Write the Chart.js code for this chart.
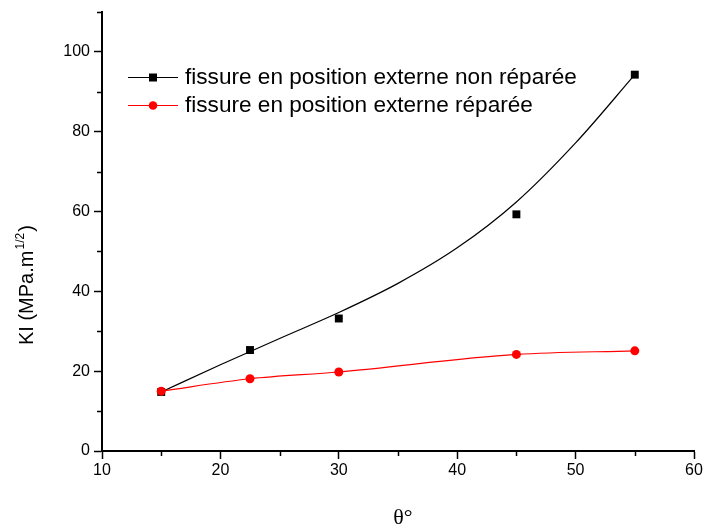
<!DOCTYPE html>
<html>
<head>
<meta charset="utf-8">
<script src="https://cdn.jsdelivr.net/npm/chart.js@4/dist/chart.umd.min.js"></script>
<style>
html,body{margin:0;padding:0;background:#fff;}
#wrap{width:703px;height:526px;position:relative;}
</style>
</head>
<body>
<div id="wrap"><canvas id="c" width="703" height="526"></canvas></div>
<script>
// ---- data ----
const theta = [15, 22.5, 30, 45, 55];
const kiNonReparee = [14.8, 25.3, 33.2, 59.3, 94.3];
const kiReparee = [15.0, 18.1, 19.8, 24.2, 25.1];
// fitted curve of the non-repaired series
const fitTheta = [15, 20, 25, 30, 35, 40, 45, 50, 55];
const fitNonReparee = [14.8, 21.6, 28.2, 34.7, 42.0, 50.9, 62.4, 77.2, 94.3];
const xTicks = [10, 20, 30, 40, 50, 60];
const yTicks = [0, 20, 40, 60, 80, 100];
const xMinorTicks = [15, 25, 35, 45, 55];
const yMinorTicks = [10, 30, 50, 70, 90, 110];
const seriesLabels = ['fissure en position externe non réparée', 'fissure en position externe réparée'];
const xTitle = 'θ°';
const yTitleMain = 'KI (MPa.m';
const yTitleSup = '1/2';
const yTitleEnd = ')';

const toXY = (xs, ys) => xs.map((x, i) => ({x: x, y: ys[i]}));

const minorTicksPlugin = {
  id: 'minorTicks',
  afterDraw(chart) {
    const ctx = chart.ctx, xs = chart.scales.x, ys = chart.scales.y;
    const a = chart.chartArea;
    ctx.save();
    ctx.strokeStyle = '#000';
    ctx.lineWidth = 1.5;
    ctx.beginPath();
    xMinorTicks.forEach(v => {
      const px = Math.round(xs.getPixelForValue(v)) + 0.5;
      ctx.moveTo(px, a.bottom); ctx.lineTo(px, a.bottom + 5);
    });
    yMinorTicks.forEach(v => {
      const py = Math.round(ys.getPixelForValue(v)) + 0.5;
      ctx.moveTo(a.left, py); ctx.lineTo(a.left - 5, py);
    });
    ctx.stroke();
    ctx.restore();
  }
};

const titlesPlugin = {
  id: 'titles',
  afterDraw(chart) {
    const ctx = chart.ctx;
    ctx.save();
    ctx.fillStyle = '#000';
    // x title
    ctx.font = '22px "Liberation Serif", "Times New Roman", serif';
    ctx.textAlign = 'center';
    ctx.textBaseline = 'alphabetic';
    ctx.fillText(xTitle, 403, 524);
    // y title, rotated
    ctx.translate(33, 345);
    ctx.rotate(-Math.PI / 2);
    ctx.textAlign = 'left';
    ctx.font = '20px "Liberation Sans", Arial, sans-serif';
    ctx.fillText(yTitleMain, 0, 0);
    let w = ctx.measureText(yTitleMain).width;
    ctx.font = '12px "Liberation Sans", Arial, sans-serif';
    ctx.fillText(yTitleSup, w + 1, -9);
    w += ctx.measureText(yTitleSup).width + 2;
    ctx.font = '20px "Liberation Sans", Arial, sans-serif';
    ctx.fillText(yTitleEnd, w, 0);
    ctx.restore();
  }
};

const legendPlugin = {
  id: 'customLegend',
  afterDraw(chart) {
    const ctx = chart.ctx;
    const rows = [
      {label: seriesLabels[0], color: '#000', style: 'rect', y: 77},
      {label: seriesLabels[1], color: '#ff0000', style: 'circle', y: 105}
    ];
    ctx.save();
    rows.forEach(r => {
      ctx.strokeStyle = r.color;
      ctx.lineWidth = 1;
      ctx.beginPath();
      ctx.moveTo(128, r.y + 0.5); ctx.lineTo(178, r.y + 0.5);
      ctx.stroke();
      ctx.fillStyle = r.color;
      if (r.style === 'rect') {
        ctx.fillRect(149, r.y - 3.5, 8, 8);
      } else {
        ctx.beginPath(); ctx.arc(153, r.y + 0.5, 4.3, 0, Math.PI * 2); ctx.fill();
      }
      ctx.fillStyle = '#000';
      ctx.font = '22.6px "Liberation Sans", Arial, sans-serif';
      ctx.textAlign = 'left';
      ctx.textBaseline = 'middle';
      ctx.fillText(r.label, 185, r.y + 1);
    });
    ctx.restore();
  }
};

new Chart(document.getElementById('c'), {
  type: 'scatter',
  data: {
    datasets: [
      {
        label: seriesLabels[1],
        data: toXY(theta, kiReparee),
        showLine: true,
        cubicInterpolationMode: 'monotone',
        borderColor: '#ff0000',
        backgroundColor: '#ff0000',
        borderWidth: 1.2,
        pointStyle: 'circle',
        pointRadius: 4.5,
        pointBorderWidth: 0,
        order: 0
      },
      {
        label: seriesLabels[0],
        data: toXY(theta, kiNonReparee),
        showLine: false,
        borderColor: '#000',
        backgroundColor: '#000',
        pointStyle: 'rect',
        pointRadius: 5.6,
        pointBorderWidth: 0,
        order: 1
      },
      {
        label: 'fit',
        data: toXY(fitTheta, fitNonReparee),
        showLine: true,
        cubicInterpolationMode: 'monotone',
        borderColor: '#000',
        borderWidth: 1.2,
        pointRadius: 0,
        order: 2
      }
    ]
  },
  options: {
    responsive: false,
    animation: false,
    devicePixelRatio: 1,
    layout: {padding: {left: 0, right: 9, top: 12, bottom: 0}},
    plugins: {legend: {display: false}, tooltip: {enabled: false}},
    scales: {
      x: {
        type: 'linear', min: 10, max: 60,
        afterFit: s => { s.height = 75; s.paddingLeft = 0; s.paddingRight = 0; },
        afterBuildTicks: s => { s.ticks = xTicks.map(v => ({value: v})); },
        border: {display: true, color: '#000', width: 2},
        grid: {drawOnChartArea: false, drawTicks: true, tickLength: 8, tickColor: '#000', tickWidth: 1.5},
        ticks: {color: '#000', font: {family: '"Liberation Sans", Arial, sans-serif', size: 16}, padding: 2, maxRotation: 0}
      },
      y: {
        type: 'linear', min: 0, max: 110,
        afterFit: s => { s.width = 102; s.paddingTop = 0; s.paddingBottom = 0; },
        afterBuildTicks: s => { s.ticks = yTicks.map(v => ({value: v})); },
        border: {display: true, color: '#000', width: 2},
        grid: {drawOnChartArea: false, drawTicks: true, tickLength: 8, tickColor: '#000', tickWidth: 1.5},
        ticks: {color: '#000', font: {family: '"Liberation Sans", Arial, sans-serif', size: 16}, padding: 4}
      }
    }
  },
  plugins: [minorTicksPlugin, titlesPlugin, legendPlugin]
});
</script>
</body>
</html>
